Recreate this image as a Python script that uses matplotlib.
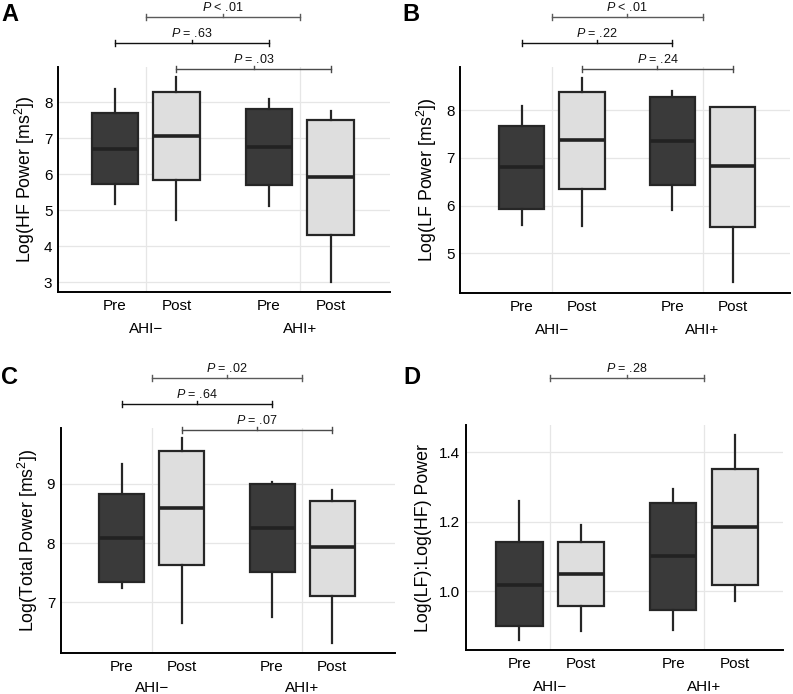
import matplotlib
matplotlib.use('Agg')
import matplotlib.pyplot as plt
from matplotlib.transforms import blended_transform_factory

plt.rcParams['font.family'] = ['Liberation Sans', 'DejaVu Sans']
plt.rcParams['mathtext.fontset'] = 'custom'
plt.rcParams['mathtext.rm'] = 'Liberation Sans'
plt.rcParams['mathtext.it'] = 'Liberation Sans:italic'
plt.rcParams['mathtext.bf'] = 'Liberation Sans:bold'

# ---------------- data ----------------
groups = ['AHI\u2212', 'AHI+']
times = ['Pre', 'Post']
# order of boxes: Pre AHI-, Post AHI-, Pre AHI+, Post AHI+

hf_whislo = [5.18, 4.73, 5.13, 3.02]
hf_q1 = [5.72, 5.85, 5.69, 4.32]
hf_med = [6.71, 7.07, 6.76, 5.93]
hf_q3 = [7.70, 8.29, 7.82, 7.51]
hf_whishi = [8.36, 8.70, 8.10, 7.76]

lf_whislo = [5.59, 5.58, 5.91, 4.40]
lf_q1 = [5.92, 6.35, 6.44, 5.56]
lf_med = [6.80, 7.37, 7.36, 6.84]
lf_q3 = [7.66, 8.38, 8.28, 8.06]
lf_whishi = [8.08, 8.68, 8.40, 8.06]

tp_whislo = [7.25, 6.66, 6.75, 6.32]
tp_q1 = [7.34, 7.63, 7.52, 7.11]
tp_med = [8.08, 8.60, 8.26, 7.93]
tp_q3 = [8.83, 9.55, 9.00, 8.72]
tp_whishi = [9.33, 9.78, 9.03, 8.89]

ratio_whislo = [0.861, 0.887, 0.890, 0.972]
ratio_q1 = [0.899, 0.957, 0.946, 1.018]
ratio_med = [1.019, 1.050, 1.102, 1.185]
ratio_q3 = [1.141, 1.142, 1.255, 1.353]
ratio_whishi = [1.259, 1.191, 1.296, 1.450]

# p-values: (between groups, Pre vs Pre, Post vs Post)
hf_p = ['$P$ < .01', '$P$ = .63', '$P$ = .03']
lf_p = ['$P$ < .01', '$P$ = .22', '$P$ = .24']
tp_p = ['$P$ = .02', '$P$ = .64', '$P$ = .07']
ratio_p = ['$P$ = .28']

ylabels = ['Log(HF Power [ms$^{2}$])', 'Log(LF Power [ms$^{2}$])',
           'Log(Total Power [ms$^{2}$])', 'Log(LF):Log(HF) Power']
letters = ['A', 'B', 'C', 'D']
yticks_list = [[3, 4, 5, 6, 7, 8], [5, 6, 7, 8], [7, 8, 9], [1.0, 1.2, 1.4]]
ytick_fmt = ['{:.0f}', '{:.0f}', '{:.0f}', '{:.1f}']

# ---------------- layout / style ----------------
W, H = 793, 694
fig = plt.figure(figsize=(W / 100, H / 100), dpi=100)

# axes boxes in pixels: left, right, top, bottom
boxes_px = [(58, 390, 67, 292), (460, 790, 67, 292.7),
            (60.7, 395, 428.3, 652.7), (466, 783, 425, 650)]
xlims = [(0.431, 2.586), (0.391, 2.58), (0.396, 2.616), (0.452, 2.514)]
ylims = [(2.73, 8.98), (4.18, 8.90), (6.15, 9.94), (0.831, 1.479)]
letter_pos = [(1, 3), (402, 3), (1, 366), (403, 366)]
group_label_off = [-30, -30, -28, -30]

dark_fill = '#3a3a3a'
light_fill = '#dedede'
edge = '#262626'
grid_c = '#e6e6e6'
offset = 0.2
bw = 0.3

datasets = [
    (hf_whislo, hf_q1, hf_med, hf_q3, hf_whishi, hf_p),
    (lf_whislo, lf_q1, lf_med, lf_q3, lf_whishi, lf_p),
    (tp_whislo, tp_q1, tp_med, tp_q3, tp_whishi, tp_p),
    (ratio_whislo, ratio_q1, ratio_med, ratio_q3, ratio_whishi, ratio_p),
]

positions = [1 - offset, 1 + offset, 2 - offset, 2 + offset]
fills = [dark_fill, light_fill, dark_fill, light_fill]

for i, (wl, q1, med, q3, wh, pvals) in enumerate(datasets):
    l, r, t, b = boxes_px[i]
    ax = fig.add_axes([l / W, 1 - b / H, (r - l) / W, (b - t) / H])
    ax_h = b - t
    stats = []
    for k in range(4):
        stats.append(dict(whislo=wl[k], q1=q1[k], med=med[k], q3=q3[k],
                          whishi=wh[k], fliers=[]))
    bp = ax.bxp(stats, positions=positions, widths=bw, patch_artist=True,
                showcaps=False, showfliers=False,
                boxprops=dict(edgecolor=edge, linewidth=1.6),
                medianprops=dict(color='#222222', linewidth=2.6, solid_capstyle='butt'),
                whiskerprops=dict(color=edge, linewidth=1.6), zorder=3)
    for patch, fc in zip(bp['boxes'], fills):
        patch.set_facecolor(fc)
    ax.set_xlim(*xlims[i])
    ax.set_ylim(*ylims[i])
    ax.set_xticks(positions)
    ax.set_xticklabels(times * 2)
    ax.set_yticks(yticks_list[i])
    ax.set_yticklabels([ytick_fmt[i].format(v) for v in yticks_list[i]])
    ax.tick_params(axis='both', length=0, labelsize=11, colors='black')
    ax.tick_params(axis='y', pad=4)
    ax.tick_params(axis='x', pad=5)
    for g in (1, 2):
        ax.axvline(g, color=grid_c, lw=0.9, zorder=0)
    for v in yticks_list[i]:
        ax.axhline(v, color=grid_c, lw=0.9, zorder=0)
    for s in ('top', 'right'):
        ax.spines[s].set_visible(False)
    for s in ('left', 'bottom'):
        ax.spines[s].set_linewidth(1.4)
        ax.spines[s].set_color('black')
    ax.set_ylabel(ylabels[i], fontsize=12.8, labelpad=5)
    for gi, gname in enumerate(groups):
        ax.annotate(gname, xy=(gi + 1, 0), xycoords=('data', 'axes fraction'),
                    xytext=(0, group_label_off[i]), textcoords='offset pixels',
                    ha='center', va='top', fontsize=11)
    # significance brackets
    tr = blended_transform_factory(ax.transData, ax.transAxes)
    if len(pvals) == 3:
        specs = [(1, 2, pvals[0], 50, '#5a5a5a'),
                 (positions[0], positions[2], pvals[1], 24, '#111111'),
                 (positions[1], positions[3], pvals[2], -2, '#4a4a4a')]
    else:
        specs = [(1, 2, pvals[0], 47, '#5a5a5a')]
    for x1, x2, lab, off, col in specs:
        y = 1 + off / ax_h
        cap = 3 / ax_h
        ax.plot([x1, x2], [y, y], color=col, lw=1.0, transform=tr, clip_on=False)
        ax.plot([x1, x1], [y - cap, y + cap], color=col, lw=1.0, transform=tr, clip_on=False)
        ax.plot([x2, x2], [y - cap, y + cap], color=col, lw=1.0, transform=tr, clip_on=False)
        xm = (x1 + x2) / 2
        ax.plot([xm, xm], [y, y + cap], color=col, lw=1.0, transform=tr, clip_on=False)
        ax.text(xm, y + 3 / ax_h, lab, transform=tr, ha='center', va='bottom',
                fontsize=9, color='#111111')
    lx, ly = letter_pos[i]
    fig.text(lx / W, 1 - ly / H, letters[i], fontsize=17, fontweight='bold',
             ha='left', va='top')

fig.savefig('out.png', dpi=100)
